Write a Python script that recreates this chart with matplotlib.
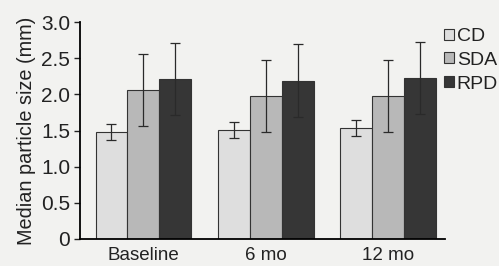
import matplotlib.pyplot as plt
import numpy as np

plt.rcParams['font.family'] = ['Liberation Sans', 'DejaVu Sans']

groups = ['Baseline', '6 mo', '12 mo']
series = ['CD', 'SDA', 'RPD']
values = {
    'CD': [1.48, 1.51, 1.53],
    'SDA': [2.06, 1.98, 1.98],
    'RPD': [2.21, 2.19, 2.23],
}
errors = {
    'CD': [0.11, 0.11, 0.11],
    'SDA': [0.50, 0.50, 0.50],
    'RPD': [0.50, 0.50, 0.50],
}
colors = {'CD': '#dedede', 'SDA': '#b8b8b8', 'RPD': '#363636'}

bg = '#f2f2f0'
fig = plt.figure(figsize=(4.99, 2.66), dpi=100, facecolor=bg)
ax = fig.add_axes([80 / 499, 27 / 266, 365 / 499, 217 / 266], facecolor=bg)

x = np.arange(len(groups))
w = 0.262
for i, s in enumerate(series):
    ax.bar(x + (i - 1) * w, values[s], w, yerr=errors[s], color=colors[s],
           edgecolor='#333333', linewidth=0.8, capsize=3.5,
           error_kw=dict(ecolor='#2a2a2a', elinewidth=0.9, capthick=0.9),
           label=s)

ax.set_xlim(-0.52, 2.47)
ax.set_ylim(0, 3.0)
ax.set_yticks([0, 0.5, 1.0, 1.5, 2.0, 2.5, 3.0])
ax.set_yticklabels(['0', '0.5', '1.0', '1.5', '2.0', '2.5', '3.0'])
ax.set_xticks(x)
ax.set_xticklabels(groups)
ax.tick_params(axis='x', length=0, labelsize=13.5, colors='#222222', pad=6)
ax.tick_params(axis='y', length=4, width=1, labelsize=15, colors='#222222', pad=3)
ax.spines['top'].set_visible(False)
ax.spines['right'].set_visible(False)
ax.spines['left'].set_linewidth(1.3)
ax.spines['bottom'].set_linewidth(1.3)
ax.set_ylabel('Median particle size (mm)', fontsize=14.3, color='#222222', labelpad=4)

h, l = ax.get_legend_handles_labels()
leg = fig.legend(h, l, loc='upper left', bbox_to_anchor=(444 / 499, 1 - 28 / 266),
                 frameon=False, fontsize=14, handlelength=0.5, handleheight=0.5,
                 handletextpad=0.15, labelspacing=0.35, borderaxespad=0, borderpad=0)
for t in leg.get_texts():
    t.set_color('#222222')

fig.savefig('out.png', dpi=100, facecolor=bg)
